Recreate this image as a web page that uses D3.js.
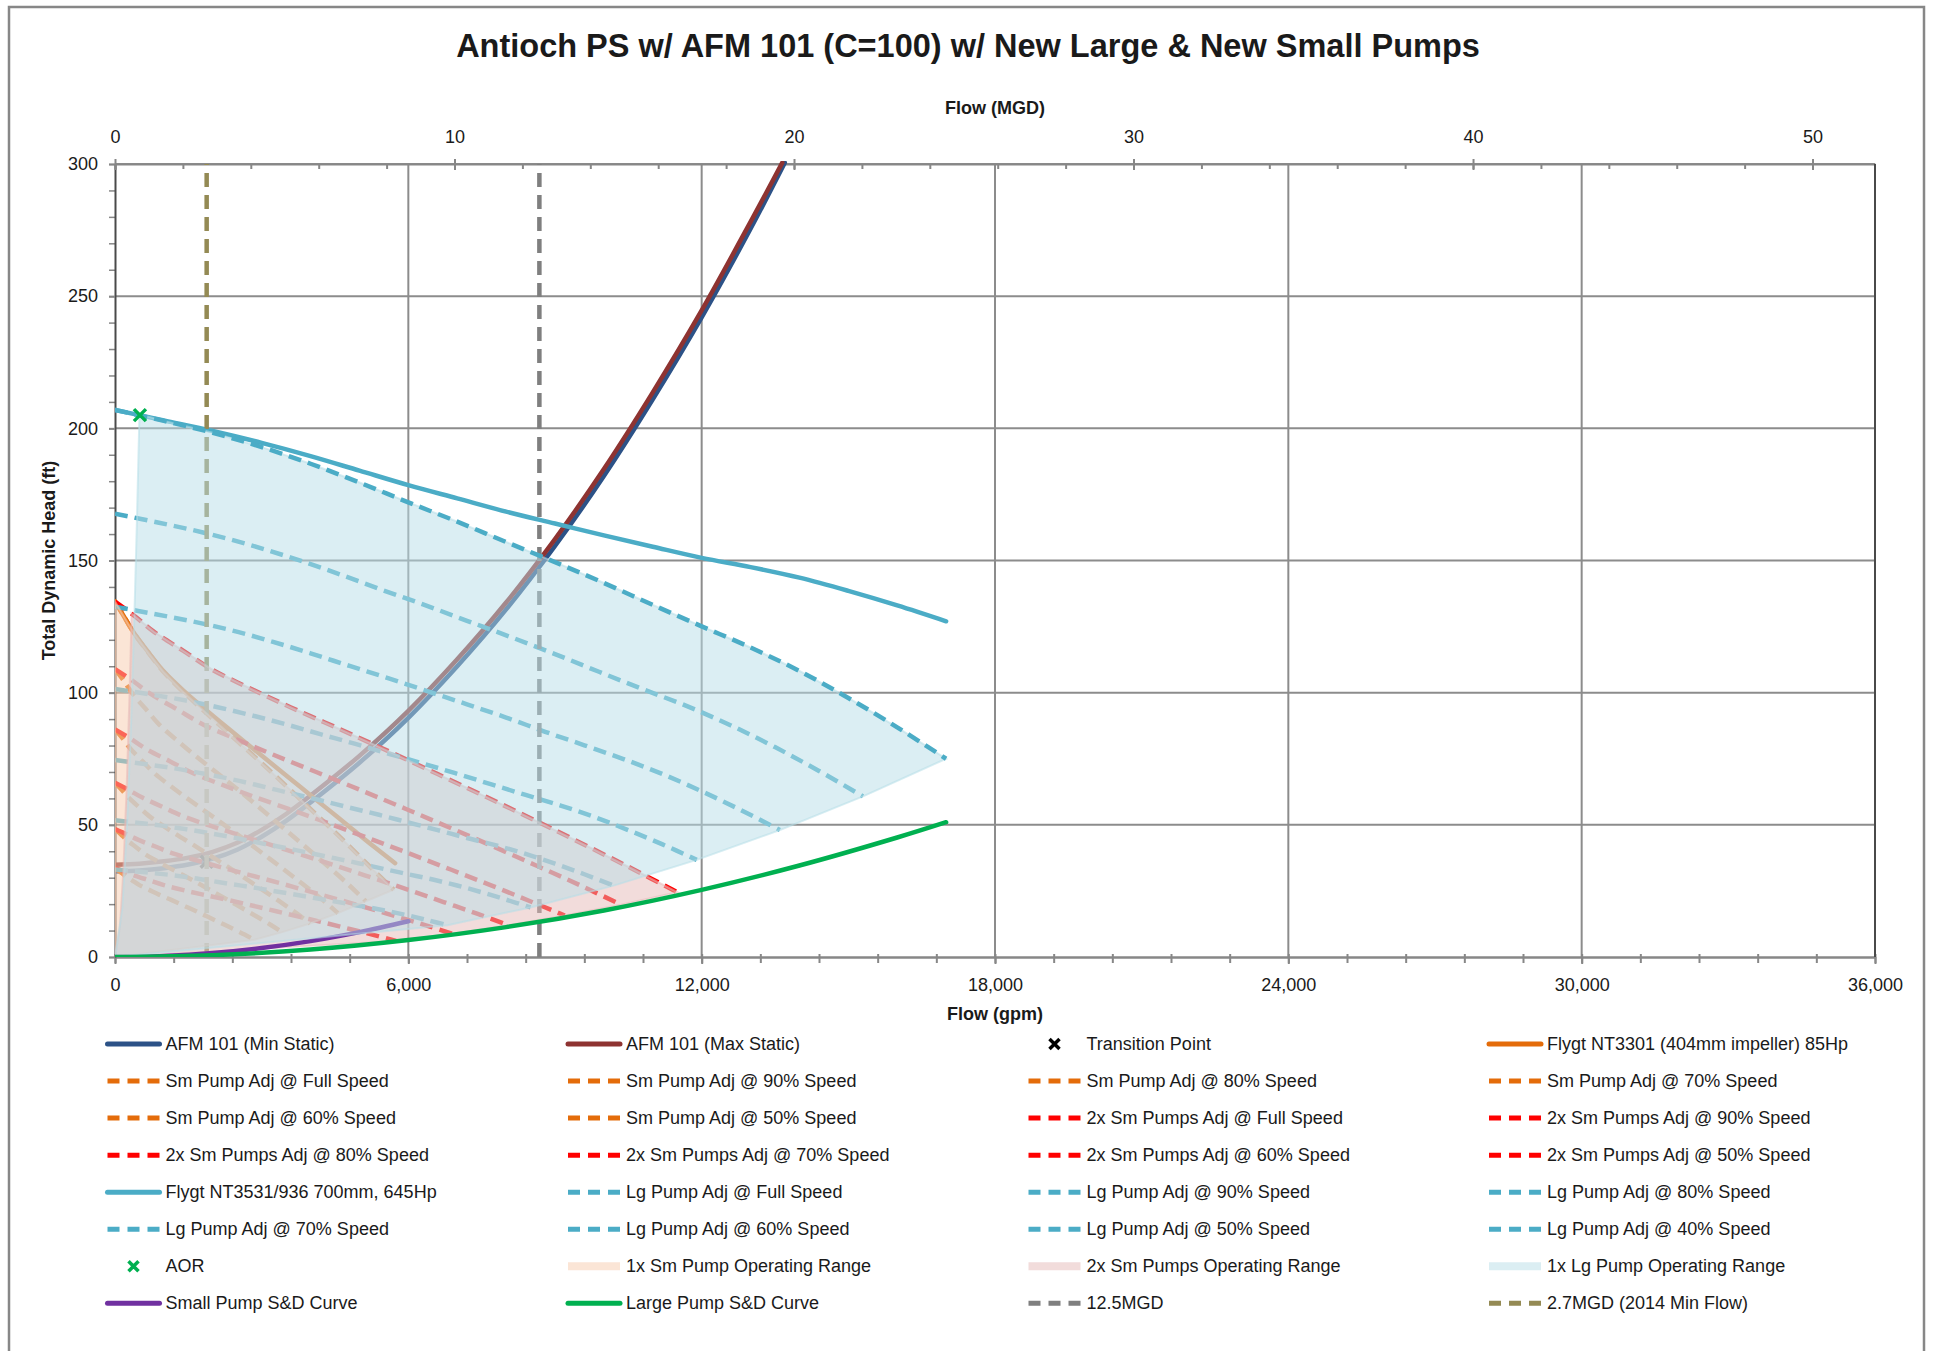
<!DOCTYPE html>
<html>
<head>
<meta charset="utf-8">
<script src="https://cdn.jsdelivr.net/npm/d3@7"></script>
<style>
  body { margin: 0; background: #fff; }
  svg { display: block; }
  text { font-family: "Liberation Sans", Arial, sans-serif; }
</style>
</head>
<body>
<svg id="chart" width="1937" height="1351"></svg>
<script>
// ---------------- data (flow in gpm, head in ft) ----------------
const GPM_PER_MGD = 694.444;

const gpmTicks  = [0, 6000, 12000, 18000, 24000, 30000, 36000];
const mgdTicks  = [0, 10, 20, 30, 40, 50];
const headTicks = [0, 50, 100, 150, 200, 250, 300];

// force main system curves
const afmMinStatic = [[0,32.3],[500,32.7],[1000,33.6],[1500,35.0],[2000,37.2],[2500,40.6],[3000,45.5],[3500,51.5],[4000,58.5],[5000,73.5],[6000,90.5],[7000,110],[8000,131.5],[9000,155.5],[10000,182],[11000,211],[12000,242],[13000,275.5],[13700,300.5]];
const afmMaxStatic = [[0,34.9],[500,35.3],[1000,36.2],[1500,37.6],[2000,39.8],[2500,43.2],[3000,48.1],[3500,54.1],[4000,61.1],[5000,76.1],[6000,93.1],[7000,112.6],[8000,134.1],[9000,158.1],[10000,184.6],[11000,213.6],[12000,244.6],[13000,278.1],[13650,300.5]];
const transitionPoint = [[1875, 36]];

// small pump
const flygtNT3301 = [[0,134.5],[200,128.3],[400,122.3],[700,114.9],[1000,108],[1400,100.8],[1800,94.4],[2300,86.7],[2800,79.2],[3300,71.7],[3800,64.2],[4300,56.7],[4800,49.2],[5300,41.7],[5730,35.5]];
const smAdjFull = [[0,134.5],[200,128.3],[400,122.2],[700,114.7],[1000,107.7],[1400,100.2],[1800,93.4],[2300,85.0],[2800,76.7],[3300,68.2],[3800,59.5],[4300,50.7],[4800,41.8],[5300,32.6],[5700,25.5]];
const smAdj90 = [[0,108.9],[180,104.5],[360,99.6],[630,93.8],[900,88.0],[1260,82.1],[1620,76.5],[2070,69.9],[2520,63.2],[2970,56.3],[3420,49.2],[3870,42.1],[4320,34.9],[4770,27.5],[5130,21.1]];
const smAdj80 = [[0,86.1],[160,82.6],[320,78.7],[560,74.1],[800,69.6],[1120,64.9],[1440,60.5],[1840,55.2],[2240,49.9],[2640,44.5],[3040,38.9],[3440,33.3],[3840,27.6],[4240,21.7],[4560,16.6]];
const smAdj70 = [[0,65.9],[140,63.2],[280,60.3],[490,56.7],[700,53.3],[980,49.7],[1260,46.3],[1610,42.3],[1960,38.2],[2310,34.1],[2660,29.8],[3010,25.5],[3360,21.1],[3710,16.6],[3990,12.7]];
const smAdj60 = [[0,48.4],[120,46.4],[240,44.3],[420,41.7],[600,39.1],[840,36.5],[1080,34.0],[1380,31.1],[1680,28.1],[1980,25.0],[2280,21.9],[2580,18.7],[2880,15.5],[3180,12.2],[3420,9.4]];
const smAdj50 = [[0,33.6],[100,32.3],[200,30.8],[350,29.0],[500,27.2],[700,25.4],[900,23.6],[1150,21.6],[1400,19.5],[1650,17.4],[1900,15.2],[2150,13.0],[2400,10.8],[2650,8.5],[2850,6.5]];

// two small pumps in parallel
const sm2xAdjFull = [[0,134.5],[400,129],[800,123],[1400,115.8],[2000,108.6],[2800,101.3],[3600,94.4],[4600,86.2],[5600,77.8],[6600,69.2],[7600,60.5],[8600,51.6],[9600,42.5],[10600,33.2],[11500,24.5]];
const sm2xAdj90 = [[0,108.9],[360,104.5],[720,99.6],[1260,93.8],[1800,88.0],[2520,82.1],[3240,76.5],[4140,69.8],[5040,63.0],[5940,56.1],[6840,49.0],[7740,41.8],[8640,34.4],[9540,26.9],[10350,19.8]];
const sm2xAdj80 = [[0,86.1],[320,82.6],[640,78.7],[1120,74.1],[1600,69.5],[2240,64.8],[2880,60.4],[3680,55.2],[4480,49.8],[5280,44.3],[6080,38.7],[6880,33.0],[7680,27.2],[8480,21.2],[9200,15.7]];
const sm2xAdj70 = [[0,65.9],[280,63.2],[560,60.3],[980,56.7],[1400,53.2],[1960,49.6],[2520,46.3],[3220,42.2],[3920,38.1],[4620,33.9],[5320,29.6],[6020,25.3],[6720,20.8],[7420,16.3],[8050,12.0]];
const sm2xAdj60 = [[0,48.4],[240,46.4],[480,44.3],[840,41.7],[1200,39.1],[1680,36.5],[2160,34.0],[2760,31.0],[3360,28.0],[3960,24.9],[4560,21.8],[5160,18.6],[5760,15.3],[6360,12.0],[6900,8.8]];
const sm2xAdj50 = [[0,33.6],[200,32.3],[400,30.8],[700,29.0],[1000,27.2],[1400,25.3],[1800,23.6],[2300,21.6],[2800,19.5],[3300,17.3],[3800,15.1],[4300,12.9],[4800,10.6],[5300,8.3],[5750,6.1]];

// large pump
const flygtNT3531 = [[0,207],[1000,203],[2000,199],[3000,194.5],[4000,189.5],[5000,184],[6000,178.5],[7000,173.5],[8000,168.5],[9000,164],[10000,159.5],[11000,155.2],[12000,151],[13000,147.5],[14000,143.5],[15000,138.5],[16000,133],[17000,127]];
const lgAdjFull = [[0,207],[1000,202.8],[2000,198.3],[3000,192.9],[4000,186.6],[5000,179.5],[6000,172.0],[7000,164.7],[8000,157.0],[9000,149.4],[10000,141.5],[11000,133.2],[12000,125.1],[13000,117.1],[14000,108.2],[15000,98.0],[16000,86.9],[17000,75.0]];
const lgAdj90 = [[0,167.7],[900,164.3],[1800,160.6],[2700,156.2],[3600,151.1],[4500,145.4],[5400,139.3],[6300,133.4],[7200,127.2],[8100,121.0],[9000,114.6],[9900,107.9],[10800,101.3],[11700,94.9],[12600,87.6],[13500,79.4],[14400,70.4],[15300,60.75]];
const lgAdj80 = [[0,132.5],[800,129.8],[1600,126.9],[2400,123.5],[3200,119.4],[4000,114.9],[4800,110.1],[5600,105.4],[6400,100.5],[7200,95.6],[8000,90.6],[8800,85.2],[9600,80.1],[10400,74.9],[11200,69.2],[12000,62.7],[12800,55.6],[13600,48.0]];
const lgAdj70 = [[0,101.4],[700,99.4],[1400,97.2],[2100,94.5],[2800,91.4],[3500,88.0],[4200,84.3],[4900,80.7],[5600,76.9],[6300,73.2],[7000,69.3],[7700,65.3],[8400,61.3],[9100,57.4],[9800,53.0],[10500,48.0],[11200,42.6],[11900,36.75]];
const lgAdj60 = [[0,74.5],[600,73.0],[1200,71.4],[1800,69.4],[2400,67.2],[3000,64.6],[3600,61.9],[4200,59.3],[4800,56.5],[5400,53.8],[6000,50.9],[6600,48.0],[7200,45.0],[7800,42.2],[8400,39.0],[9000,35.3],[9600,31.3],[10200,27.0]];
const lgAdj50 = [[0,51.75],[500,50.7],[1000,49.6],[1500,48.2],[2000,46.65],[2500,44.9],[3000,43.0],[3500,41.2],[4000,39.25],[4500,37.35],[5000,35.4],[5500,33.3],[6000,31.3],[6500,29.3],[7000,27.05],[7500,24.5],[8000,21.7],[8500,18.75]];
const lgAdj40 = [[0,33.1],[400,32.4],[800,31.7],[1200,30.9],[1600,29.9],[2000,28.7],[2400,27.5],[2800,26.4],[3200,25.1],[3600,23.9],[4000,22.6],[4400,21.3],[4800,20.0],[5200,18.7],[5600,17.3],[6000,15.7],[6400,13.9],[6800,12.0]];

const aorPoint = [[510, 205]];

// operating range outlines: minimum-flow edge and run-out edge (through the curve end points)
const smRange1xRunout  = [[5700,25.5],[5130,21.1],[4560,16.6],[3990,12.7],[3420,9.4],[2850,6.5],[0,0]];
const smRange2xMinFlow = [[0,0],[100,11.2],[170,32.5],[240,64.8],[300,101.2],[340,130]];
const smRange2xRunout  = [[11500,24.5],[10350,19.8],[9200,15.7],[8050,12.0],[6900,8.8],[5750,6.1],[0,0]];
const lgRangeMinFlow   = [[0,0],[150,18.5],[250,51.3],[330,89.4],[400,131.4],[450,166.3],[500,205.3]];
const lgRangeRunout    = [[17000,75],[15300,60.75],[13600,48],[11900,36.75],[10200,27],[8500,18.75],[6800,12],[0,0]];

// station duty curves
const smallSD = [[0,0],[1000,0.4],[2000,1.5],[3000,3.4],[4000,6.0],[5000,9.4],[6000,13.5]];
const largeSD = [[0,0],[2000,0.7],[4000,2.8],[6000,6.4],[8000,11.3],[10000,17.6],[12000,25.4],[14000,34.6],[16000,45.2],[17000,51]];

// reference flows (MGD)
const flowLine125 = 12.5;
const flowLine27  = 2.7;

// ---------------- chart ----------------
const ORANGE = "#E46C0A", RED = "#FF0000", AQUA = "#4BACC6";

// layer: 0/undefined = under all shading, 1 = above small-pump shading, 2 = on top of everything
const series = [
  { name: "AFM 101 (Min Static)", kind: "line", color: "#2C5287", data: afmMinStatic },
  { name: "AFM 101 (Max Static)", kind: "line", color: "#8E3331", data: afmMaxStatic },
  { name: "Transition Point", kind: "mark", color: "#000000", data: transitionPoint },
  { name: "Flygt NT3301 (404mm impeller) 85Hp", kind: "line", color: ORANGE, data: flygtNT3301 },
  { name: "Sm Pump Adj @ Full Speed", kind: "dash", color: ORANGE, data: smAdjFull },
  { name: "Sm Pump Adj @ 90% Speed", kind: "dash", color: ORANGE, data: smAdj90 },
  { name: "Sm Pump Adj @ 80% Speed", kind: "dash", color: ORANGE, data: smAdj80 },
  { name: "Sm Pump Adj @ 70% Speed", kind: "dash", color: ORANGE, data: smAdj70 },
  { name: "Sm Pump Adj @ 60% Speed", kind: "dash", color: ORANGE, data: smAdj60 },
  { name: "Sm Pump Adj @ 50% Speed", kind: "dash", color: ORANGE, data: smAdj50 },
  { name: "2x Sm Pumps Adj @ Full Speed", kind: "dash", color: RED, data: sm2xAdjFull },
  { name: "2x Sm Pumps Adj @ 90% Speed", kind: "dash", color: RED, data: sm2xAdj90 },
  { name: "2x Sm Pumps Adj @ 80% Speed", kind: "dash", color: RED, data: sm2xAdj80 },
  { name: "2x Sm Pumps Adj @ 70% Speed", kind: "dash", color: RED, data: sm2xAdj70 },
  { name: "2x Sm Pumps Adj @ 60% Speed", kind: "dash", color: RED, data: sm2xAdj60 },
  { name: "2x Sm Pumps Adj @ 50% Speed", kind: "dash", color: RED, data: sm2xAdj50 },
  { name: "Flygt NT3531/936 700mm, 645Hp", kind: "line", color: AQUA, data: flygtNT3531 },
  { name: "Lg Pump Adj @ Full Speed", kind: "dash", color: AQUA, data: lgAdjFull, layer: 2 },
  { name: "Lg Pump Adj @ 90% Speed", kind: "dash", color: AQUA, data: lgAdj90 },
  { name: "Lg Pump Adj @ 80% Speed", kind: "dash", color: AQUA, data: lgAdj80 },
  { name: "Lg Pump Adj @ 70% Speed", kind: "dash", color: AQUA, data: lgAdj70 },
  { name: "Lg Pump Adj @ 60% Speed", kind: "dash", color: AQUA, data: lgAdj60 },
  { name: "Lg Pump Adj @ 50% Speed", kind: "dash", color: AQUA, data: lgAdj50 },
  { name: "Lg Pump Adj @ 40% Speed", kind: "dash", color: AQUA, data: lgAdj40 },
  { name: "AOR", kind: "mark", color: "#00B050", data: aorPoint, layer: 2 },
  { name: "1x Sm Pump Operating Range", kind: "area", color: "#F8CBAD", layer: 0,
    data: smAdjFull.concat(smRange1xRunout) },
  { name: "2x Sm Pumps Operating Range", kind: "area", color: "#E6B9B8", layer: 0,
    data: smRange2xMinFlow.concat(sm2xAdjFull.filter(d => d[0] > 340), smRange2xRunout) },
  { name: "1x Lg Pump Operating Range", kind: "area", color: "#B7DEE8", layer: 1,
    data: lgRangeMinFlow.concat(lgAdjFull.filter(d => d[0] > 500), lgRangeRunout) },
  { name: "Small Pump S&D Curve", kind: "line", color: "#7030A0", data: smallSD, layer: 1 },
  { name: "Large Pump S&D Curve", kind: "line", color: "#00B050", data: largeSD, layer: 2 },
  { name: "12.5MGD", kind: "dash", color: "#7F7F7F", vertical: true,
    data: [[flowLine125 * GPM_PER_MGD, 0], [flowLine125 * GPM_PER_MGD, 300]] },
  { name: "2.7MGD (2014 Min Flow)", kind: "dash", color: "#948A54", vertical: true,
    data: [[flowLine27 * GPM_PER_MGD, 0], [flowLine27 * GPM_PER_MGD, 300]] },
];

const svg = d3.select("#chart");
const plot = { left: 115, right: 1875, top: 164, bottom: 957 };

const x = d3.scaleLinear().domain([0, 36000]).range([plot.left, plot.right]);
const xMgd = d3.scaleLinear().domain([0, 36000 / GPM_PER_MGD]).range([plot.left, plot.right]);
const y = d3.scaleLinear().domain([0, 300]).range([plot.bottom, plot.top]);

const AXIS_GREY = "#878787", TEXT_COL = "#1a1a1a";

// outer chart frame
svg.append("rect").attr("x", 9).attr("y", 7).attr("width", 1915).attr("height", 1400)
  .attr("fill", "none").attr("stroke", AXIS_GREY).attr("stroke-width", 2.5);

// title
svg.append("text").attr("x", 968).attr("y", 57).attr("text-anchor", "middle")
  .attr("font-size", 32.5).attr("font-weight", "bold").attr("fill", TEXT_COL)
  .text("Antioch PS w/ AFM 101 (C=100) w/ New Large & New Small Pumps");

// gridlines
const grid = svg.append("g");
grid.selectAll("line.h").data(headTicks.filter(d => d > 0)).join("line")
  .attr("x1", plot.left).attr("x2", plot.right)
  .attr("y1", d => y(d)).attr("y2", d => y(d))
  .attr("stroke", "#8c8c8c").attr("stroke-width", 2);
grid.selectAll("line.v").data(gpmTicks.filter(d => d > 0 && d < 36000)).join("line")
  .attr("x1", d => x(d)).attr("x2", d => x(d))
  .attr("y1", plot.top).attr("y2", plot.bottom)
  .attr("stroke", "#8c8c8c").attr("stroke-width", 2);

// axes
function styleAxis(g, col, w) {
  g.select(".domain").attr("stroke", col).attr("stroke-width", w);
  g.selectAll(".tick line").attr("stroke", col).attr("stroke-width", 2);
  g.selectAll(".tick text").attr("fill", TEXT_COL).attr("font-size", 18)
    .attr("font-family", "'Liberation Sans', Arial, sans-serif");
}

const gBotMinor = svg.append("g").attr("transform", `translate(0,${plot.bottom})`)
  .call(d3.axisBottom(x).tickValues(d3.range(0, 36001, 1200)).tickSize(6).tickSizeOuter(0).tickFormat(""));
gBotMinor.select(".domain").remove();
gBotMinor.selectAll(".tick line").attr("y1", -3).attr("stroke", AXIS_GREY).attr("stroke-width", 2);
const gBot = svg.append("g").attr("transform", `translate(0,${plot.bottom})`)
  .call(d3.axisBottom(x).tickValues(gpmTicks).tickSize(7).tickSizeOuter(0).tickFormat(d3.format(",")));
styleAxis(gBot, AXIS_GREY, 2.5);
gBot.selectAll(".tick text").attr("y", 21).attr("dy", "0.71em");

const gLeftMinor = svg.append("g").attr("transform", `translate(${plot.left},0)`)
  .call(d3.axisLeft(y).tickValues(d3.range(0, 301, 10)).tickSize(6).tickSizeOuter(0).tickFormat(""));
gLeftMinor.select(".domain").remove();
gLeftMinor.selectAll(".tick line").attr("stroke", AXIS_GREY).attr("stroke-width", 1.5);
const gLeft = svg.append("g").attr("transform", `translate(${plot.left},0)`)
  .call(d3.axisLeft(y).tickValues(headTicks).tickSize(6).tickSizeOuter(0).tickPadding(11));
styleAxis(gLeft, "#4a4a4a", 2);
gLeft.selectAll(".tick line").attr("stroke", AXIS_GREY);

const gTopMinor = svg.append("g").attr("transform", `translate(0,${plot.top})`)
  .call(d3.axisTop(xMgd).tickValues(d3.range(0, 52, 2)).tickSize(-5).tickSizeOuter(0).tickFormat(""));
gTopMinor.select(".domain").remove();
gTopMinor.selectAll(".tick line").attr("stroke", AXIS_GREY).attr("stroke-width", 2);
const gTop = svg.append("g").attr("transform", `translate(0,${plot.top})`)
  .call(d3.axisTop(xMgd).tickValues(mgdTicks).tickSize(5).tickSizeOuter(0).tickPadding(16));
styleAxis(gTop, AXIS_GREY, 2);
gTop.selectAll(".tick line").attr("y1", 6);

// right edge of plot
svg.append("line").attr("x1", plot.right).attr("x2", plot.right)
  .attr("y1", plot.top).attr("y2", plot.bottom)
  .attr("stroke", "#4a4a4a").attr("stroke-width", 2);

// axis titles
svg.append("text").attr("x", (plot.left + plot.right) / 2).attr("y", 114)
  .attr("text-anchor", "middle").attr("font-size", 18).attr("font-weight", "bold")
  .attr("fill", TEXT_COL).text("Flow (MGD)");
svg.append("text").attr("x", (plot.left + plot.right) / 2).attr("y", 1020)
  .attr("text-anchor", "middle").attr("font-size", 18).attr("font-weight", "bold")
  .attr("fill", TEXT_COL).text("Flow (gpm)");
svg.append("text").attr("transform", `translate(55,${(plot.top + plot.bottom) / 2}) rotate(-90)`)
  .attr("text-anchor", "middle").attr("font-size", 18).attr("font-weight", "bold")
  .attr("fill", TEXT_COL).text("Total Dynamic Head (ft)");

// plot area clip
svg.append("clipPath").attr("id", "plotClip").append("rect")
  .attr("x", plot.left).attr("y", plot.top - 3)
  .attr("width", plot.right - plot.left).attr("height", plot.bottom - plot.top + 3);

const curveLine = d3.line().x(d => x(d[0])).y(d => y(d[1])).curve(d3.curveCatmullRom.alpha(0.5));
const straight = d3.line().x(d => x(d[0])).y(d => y(d[1]));
const xMark = "M-6,-6L6,6M-6,6L6,-6";

const plotG = svg.append("g").attr("clip-path", "url(#plotClip)");

function drawSeries(s, g) {
  if (s.kind === "area") {
    g.append("path").datum(s.data)
      .attr("d", d => straight(d) + "Z")
      .attr("fill", s.color).attr("fill-opacity", 0.5)
      .attr("stroke", s.color).attr("stroke-opacity", 0.55).attr("stroke-width", 2);
  } else if (s.kind === "mark") {
    g.selectAll(null).data(s.data).join("path")
      .attr("transform", d => `translate(${x(d[0])},${y(d[1])})`)
      .attr("d", xMark).attr("stroke", s.color).attr("stroke-width", 3.5).attr("fill", "none");
  } else {
    g.append("path").datum(s.data)
      .attr("d", s.vertical ? straight : curveLine)
      .attr("fill", "none").attr("stroke", s.color)
      .attr("stroke-width", 4.5)
      .attr("stroke-linecap", s.kind === "line" ? "round" : "butt")
      .attr("stroke-dasharray", s.kind === "dash" ? (s.vertical ? "14,8" : "13,7") : null);
  }
}

// draw order: curves, small-pump shading, small S&D curve, large-pump shading, top items
const orderKey = s => {
  if (s.kind === "area") return s.layer === 0 ? 1 : 3;
  if (s.layer === 1) return 2;
  if (s.layer === 2) return 4;
  return 0;
};
[0, 1, 2, 3, 4].forEach(k => series.filter(s => orderKey(s) === k).forEach(s => drawSeries(s, plotG)));

// legend: 4 columns, row-major order
const legendCols = [107.5, 568, 1028.5, 1489];
const legendTop = 1044, legendRowStep = 37.05, swatchLen = 52;
const legend = svg.append("g");
series.forEach((s, i) => {
  const cx = legendCols[i % 4], cy = legendTop + Math.floor(i / 4) * legendRowStep;
  const g = legend.append("g").attr("transform", `translate(${cx},${cy})`);
  if (s.kind === "mark") {
    g.append("path").attr("transform", `translate(${swatchLen / 2},0)`)
      .attr("d", "M-5,-5L5,5M-5,5L5,-5").attr("stroke", s.color).attr("stroke-width", 3.5);
  } else if (s.kind === "area") {
    g.append("line").attr("x1", 0).attr("x2", swatchLen).attr("y1", 0).attr("y2", 0)
      .attr("stroke", s.color).attr("stroke-opacity", 0.5).attr("stroke-width", 8);
  } else {
    g.append("line").attr("x1", 0).attr("x2", swatchLen).attr("y1", 0).attr("y2", 0)
      .attr("stroke", s.color).attr("stroke-width", 5)
      .attr("stroke-linecap", s.kind === "line" ? "round" : "butt")
      .attr("stroke-dasharray", s.kind === "dash" ? "12,8" : null);
  }
  g.append("text").attr("x", 58).attr("y", 6).attr("font-size", 18)
    .attr("fill", TEXT_COL).text(s.name);
});
</script>
</body>
</html>
